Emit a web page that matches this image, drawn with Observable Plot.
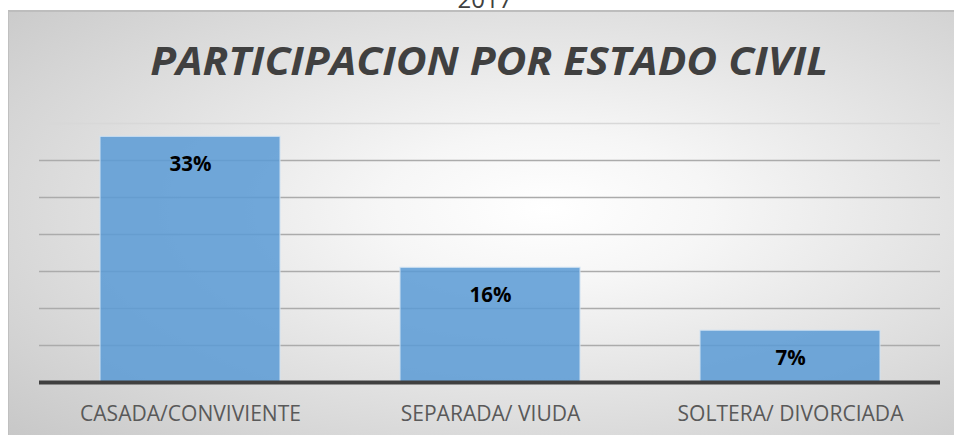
<!DOCTYPE html>
<html><head><meta charset="utf-8">
<script src="https://cdn.jsdelivr.net/npm/d3@7"></script>
<script src="https://cdn.jsdelivr.net/npm/@observablehq/plot@0.6"></script>
<style>
html,body{margin:0;padding:0;width:954px;height:435px;overflow:hidden;background:#fff;position:relative;}
#year{position:absolute;left:0;width:970px;top:-13px;text-align:center;font:400 24px/24px "Open Sans";color:#404040;white-space:nowrap;}
#panel{position:absolute;left:8px;top:10px;width:960px;height:440px;box-sizing:border-box;border-left:1px solid #c0c0c0;border-top:2px solid #bdbdbd;
  background:radial-gradient(ellipse farthest-corner at 56% 45%, #ffffff 0%, #f6f6f6 22%, #c6c6c6 100%);}
#title{position:absolute;top:40px;left:0;width:978px;text-align:center;font:italic 700 40px/40px "Open Sans";color:#404040;white-space:nowrap;}
#title span{display:inline-block;transform-origin:50% 50%;}
#chart{position:absolute;left:0;top:0;}
</style></head>
<body>
<div id="year">2017</div>
<div id="panel"></div>
<div id="title"><span>PARTICIPACION POR ESTADO CIVIL</span></div>
<div id="chart"></div>
<script>
const categories = ["CASADA/CONVIVIENTE", "SEPARADA/ VIUDA", "SOLTERA/ DIVORCIADA"];
const values = [33.2, 15.5, 7.0];
const valueLabels = ["33%", "16%", "7%"];
const gridTicks = [5, 10, 15, 20, 25, 30, 35];

const data = categories.map((c, i) => ({cat: c, v: values[i], label: valueLabels[i]}));

const chart = Plot.plot({
  width: 954,
  height: 435,
  marginLeft: 39,
  marginRight: 14,
  marginTop: 123,
  marginBottom: 53,
  style: {background: "transparent", fontFamily: "Open Sans", overflow: "visible"},
  color: {type: "identity"},
  x: {domain: categories, paddingInner: 0.4, paddingOuter: 0.2, label: null},
  y: {domain: [0, 35], axis: null},
  marks: [
    Plot.ruleY(gridTicks, {stroke: d => d === 35 ? "#d8d8d8" : "#ababab", strokeWidth: 1.5}),
    Plot.barY(data, {x: "cat", y: "v", fill: "#5b9bd5", fillOpacity: 0.86, stroke: "#cfe1f2", strokeWidth: 1}),
    Plot.ruleY([0], {stroke: "#404040", strokeWidth: 4}),
    Plot.text(data, {x: "cat", y: "v", text: "label", dy: 28, lineAnchor: "middle", fontSize: 20.5, fontWeight: 700, fill: "#000"}),
    Plot.axisX({tickSize: 0, tickPadding: 23, fontSize: 22.5, color: "#595959", label: null})
  ]
});
document.getElementById("chart").appendChild(chart);

// condense category labels slightly (the reference uses a narrower face)
const ticks = chart.querySelectorAll('[aria-label="x-axis tick label"] text');
const k = 221 / ticks[0].getComputedTextLength();
ticks.forEach(t => {
  const w = t.getComputedTextLength();
  t.setAttribute("textLength", (w * k).toFixed(1));
  t.setAttribute("lengthAdjust", "spacingAndGlyphs");
});

// fit title width
const span = document.querySelector("#title span");
const tw = span.getBoundingClientRect().width;
span.style.transform = `scaleX(${678 / tw})`;
</script>
</body></html>
